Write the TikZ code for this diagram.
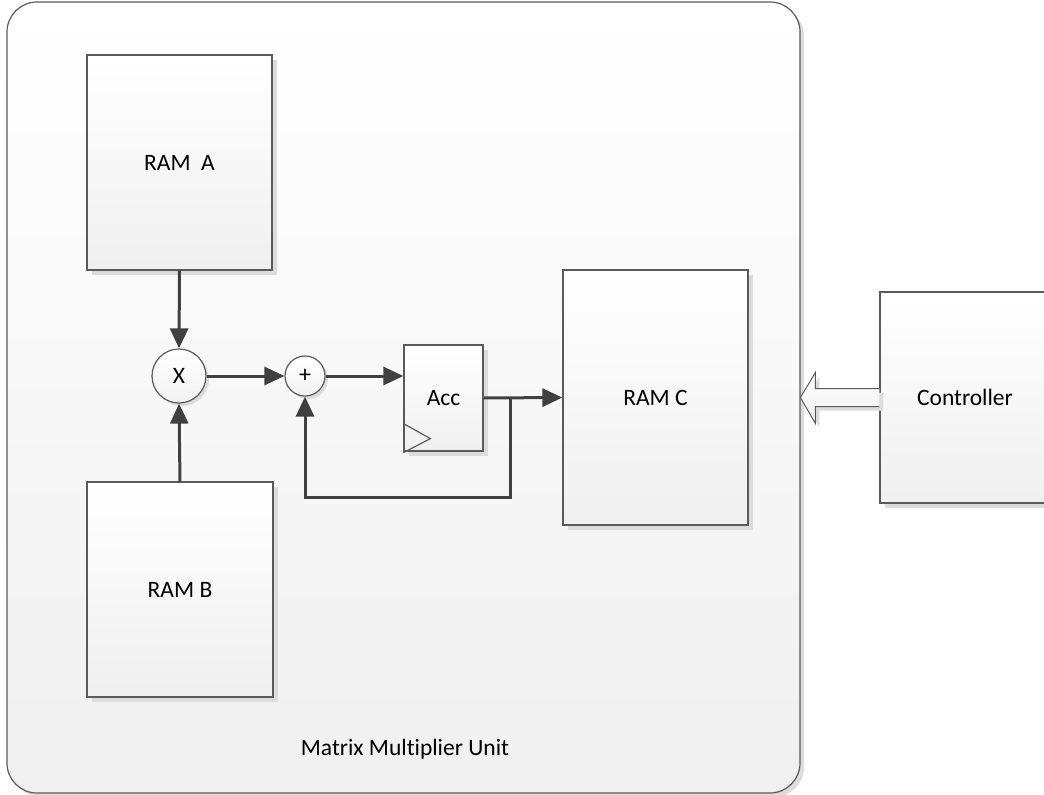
\documentclass[tikz,border=0pt]{standalone}
\usepackage{fontspec}
\setmainfont{Carlito}[Ligatures={NoCommon}]
\usetikzlibrary{arrows.meta,shadows,calc}
\definecolor{edge}{HTML}{5A5A5A}
\definecolor{wire}{HTML}{404040}
\definecolor{shade}{HTML}{DCDCDC}
\tikzset{
  blk/.style={draw=edge,line width=1.2pt,top color=white,bottom color=black!6,
    drop shadow={shadow xshift=5pt,shadow yshift=-5pt,fill=shade,opacity=1},
    inner sep=0pt,font=\fontsize{23.5}{28}\selectfont},
  opc/.style={circle,draw=edge,line width=1.2pt,top color=white,bottom color=black!5,
    drop shadow={shadow xshift=3pt,shadow yshift=-3pt,fill=shade,opacity=1},inner sep=0pt},
  wr/.style={draw=wire,line width=3pt,-{Triangle[length=20pt,width=18pt]}},
}
\begin{document}
\begin{tikzpicture}[x=1pt,y=-1pt]
\useasboundingbox (0,0) rectangle (1044,795);
% outer unit
\node[draw=edge,line width=1.2pt,rounded corners=30pt,top color=white,bottom color=black!6,
  drop shadow={shadow xshift=4pt,shadow yshift=-4pt,fill=shade,opacity=1},
  minimum width=793pt,minimum height=791pt,inner sep=0pt] (unit) at (403.5,397.5) {};
\node[font=\fontsize{23.5}{28}\selectfont] (unitlbl) at (405,749) {Matrix Multiplier Unit};
% blocks
\node[blk,minimum width=185pt,minimum height=215pt] (ramA) at (179.5,162.5) {RAM\ \ A};
\node[blk,minimum width=186pt,minimum height=215pt] (ramB) at (180,589.5) {RAM B};
\node[blk,minimum width=185pt,minimum height=255pt] (ramC) at (655.5,397.5) {RAM C};
\node[blk,minimum width=79pt,minimum height=106pt] (acc) at (443.5,398) {Acc};
\node[blk,minimum width=170pt,minimum height=211pt] (ctrl) at (965,397.5) {Controller};
% operators
\node[opc,minimum size=54pt,font=\fontsize{23.5}{28}\selectfont] (mul) at (179,376) {X};
\node[opc,minimum size=40pt,font=\fontsize{24}{28}\selectfont] (add) at (305,376) {+};
% clock triangle
\draw[edge,line width=1.2pt] ($(acc.south west)+(0,-28)$) -- ($(acc.south west)+(27,-13)$) -- ($(acc.south west)+(0,1)$);
% block arrow from controller
\path[draw=edge,line width=1pt,top color=white,bottom color=black!6,
  drop shadow={shadow xshift=4pt,shadow yshift=-4pt,fill=shade,opacity=1}]
  ($(ctrl.west)+(0,-9)$) -- ($(ctrl.west)+(-64,-9)$) -- ($(ctrl.west)+(-64,-25)$)
  -- ($(ctrl.west)+(-79,0)$) -- ($(ctrl.west)+(-64,26)$) -- ($(ctrl.west)+(-64,9)$)
  -- ($(ctrl.west)+(0,9)$);
% wires
\draw[wr] (ramA.south) -- (mul.north);
\draw[wr] (ramB.north) -- (mul.south);
\draw[wr] (mul.east) -- (add.west);
\draw[wr] (add.east) -- (add.east -| acc.west);
\coordinate (j) at (510,398);
\coordinate (fb) at (510,497);
\draw[wr] (acc.east) -- (ramC.west);
\draw[wr] (j) -- (fb) -| (add.south);
\end{tikzpicture}
\end{document}
